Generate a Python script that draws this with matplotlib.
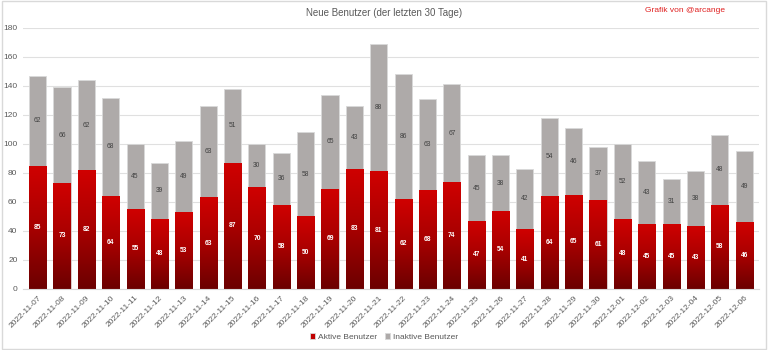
import numpy as np
import matplotlib
matplotlib.use("Agg")
import matplotlib.pyplot as plt
from matplotlib.colors import LinearSegmentedColormap

# ── Data ─────────────────────────────────────────────────────
dates = ["2022-11-07", "2022-11-08", "2022-11-09", "2022-11-10", "2022-11-11",
         "2022-11-12", "2022-11-13", "2022-11-14", "2022-11-15", "2022-11-16",
         "2022-11-17", "2022-11-18", "2022-11-19", "2022-11-20", "2022-11-21",
         "2022-11-22", "2022-11-23", "2022-11-24", "2022-11-25", "2022-11-26",
         "2022-11-27", "2022-11-28", "2022-11-29", "2022-11-30", "2022-12-01",
         "2022-12-02", "2022-12-03", "2022-12-04", "2022-12-05", "2022-12-06"]
active = [85, 73, 82, 64, 55, 48, 53, 63, 87, 70, 58, 50, 69, 83, 81,
          62, 68, 74, 47, 54, 41, 64, 65, 61, 48, 45, 45, 43, 58, 46]
inactive = [62, 66, 62, 68, 45, 39, 49, 63, 51, 30, 36, 58, 65, 43, 88,
            86, 63, 67, 45, 38, 42, 54, 46, 37, 52, 43, 31, 38, 48, 49]

plt.rcParams["font.family"] = ["Liberation Sans", "DejaVu Sans"]

GRAY = "#AEAAA9"
TXT = "#595959"
red_cmap = LinearSegmentedColormap.from_list("red", ["#6B0000", "#A80000", "#D00000"])

fig = plt.figure(figsize=(7.68, 3.5), dpi=100)
ax = fig.add_axes([0.030, 0.175, 0.958, 0.745])

x = np.arange(len(dates))
w = 0.7

# gray stacked part
ax.bar(x, inactive, w, bottom=active, color=GRAY, edgecolor="#D9D9D9",
       linewidth=0.6, zorder=2, label="Inaktive Benutzer")
# red bars (gradient filled below)
red_bars = ax.bar(x, active, w, color="#C00000", edgecolor="#D9D9D9",
                  linewidth=0.6, zorder=2, label="Aktive Benutzer")

grad = np.linspace(0, 1, 256).reshape(-1, 1)
for b in red_bars:
    bx, by = b.get_x(), b.get_y()
    bw, bh = b.get_width(), b.get_height()
    im = ax.imshow(grad, cmap=red_cmap, origin="lower", aspect="auto",
                   extent=[bx, bx + bw, by, by + bh], zorder=2.5)
    im.set_clip_path(b)

for i in range(len(dates)):
    ax.text(x[i], active[i] / 2, str(active[i]), ha="center", va="center",
            fontsize=4.8, color="white", fontweight="bold", zorder=3)
    ax.text(x[i], active[i] + inactive[i] / 2, str(inactive[i]), ha="center",
            va="center", fontsize=4.8, color="#404040", zorder=3)

ax.set_xlim(-0.6, len(dates) - 0.4)
ax.set_ylim(0, 180)
ax.set_yticks(range(0, 181, 20))
ax.set_xticks(x)
ax.set_xticklabels(dates, rotation=45, ha="right", rotation_mode="anchor",
                   fontsize=6, color=TXT)
ax.tick_params(axis="y", labelsize=6, colors=TXT, length=0, pad=4)
ax.tick_params(axis="x", length=0, pad=4)
ax.grid(axis="y", color="#E0E0E0", linewidth=0.8, zorder=0)
ax.set_axisbelow(True)
for s in ax.spines.values():
    s.set_visible(False)
ax.spines["bottom"].set_visible(True)
ax.spines["bottom"].set_color("#D9D9D9")

fig.text(0.5, 0.962, "Neue Benutzer (der letzten 30 Tage)", ha="center",
         va="center", fontsize=7, color=TXT)
fig.text(0.892, 0.97, "Grafik von @arcange", ha="center", va="center",
         fontsize=6, color="#E02020")

h, l = ax.get_legend_handles_labels()
fig.legend(h[::-1], l[::-1], loc="center", bbox_to_anchor=(0.5, 0.037), ncol=2,
           frameon=False, fontsize=6, handlelength=0.6, handleheight=0.6,
           columnspacing=1.0, handletextpad=0.3, labelcolor=TXT)

# light border around figure
fig.patches.append(plt.Rectangle((0.002, 0.003), 0.996, 0.994, transform=fig.transFigure,
                                 fill=False, edgecolor="#D9D9D9", linewidth=1))

fig.savefig("out.png", dpi=100)
plt.close(fig)
